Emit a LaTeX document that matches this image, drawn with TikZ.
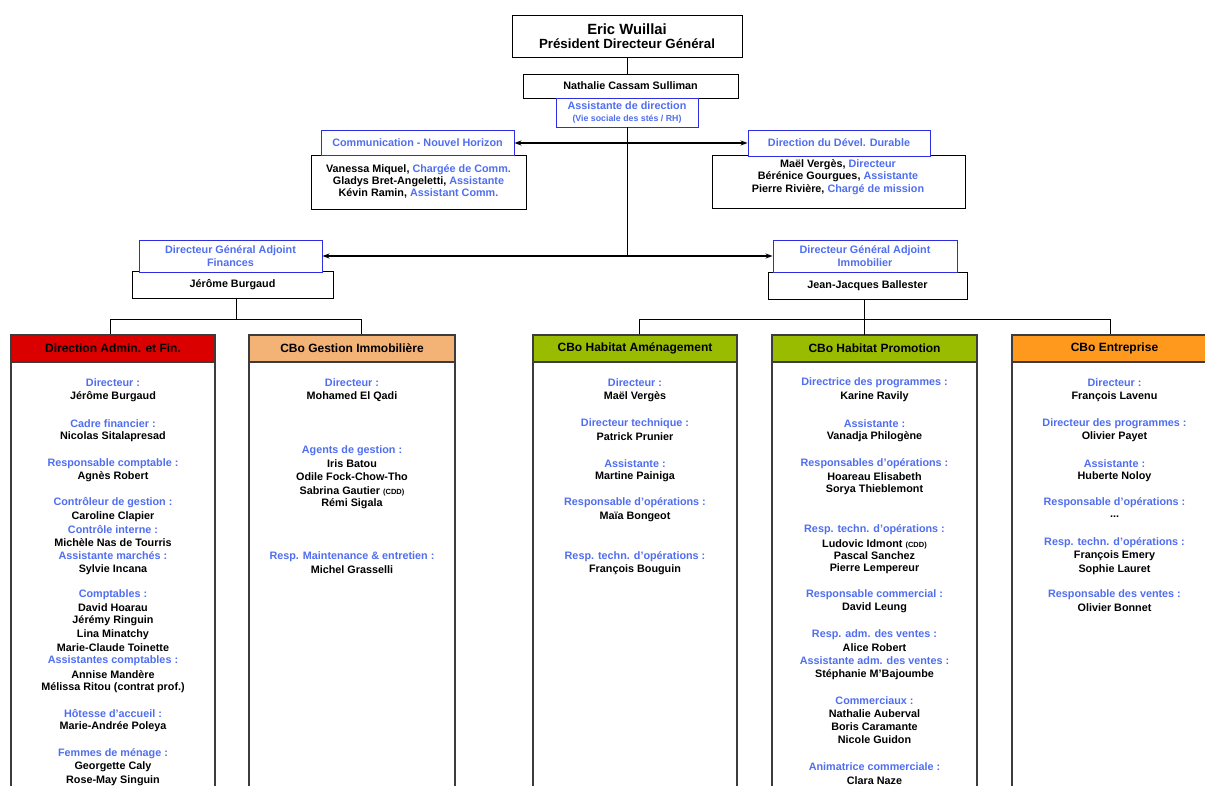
\documentclass[tikz,border=0pt]{standalone}
\usepackage{fontspec}
\setmainfont{Liberation Sans}
\usetikzlibrary{arrows.meta}
\definecolor{lblue}{RGB}{80,110,240}
\definecolor{bblue}{RGB}{45,45,225}
\definecolor{hred}{RGB}{218,0,0}
\definecolor{htan}{RGB}{243,178,118}
\definecolor{hgreen}{RGB}{153,187,0}
\definecolor{horange}{RGB}{255,153,30}
\definecolor{edgegray}{RGB}{60,60,60}
\newcommand\bodyfont{\bfseries\fontsize{10.8}{12.6}\selectfont}
\newcommand\lb[1]{\textcolor{lblue}{#1}}
\newcommand\threedots{...}
\begin{document}
\begin{tikzpicture}[x=1pt,y=-1pt,
  every node/.style={inner sep=0pt, font=\bodyfont},
  kbox/.style={draw=black, line width=0.9pt, fill=white, align=center},
  bbox/.style={draw=bblue, line width=0.9pt, fill=white, align=center, text=lblue},
  head/.style={draw=edgegray, line width=1.3pt, minimum height=27, font=\bfseries\fontsize{12}{14}\selectfont},
  colbody/.style={draw=edgegray, line width=1.3pt, minimum height=440},
  lab/.style={text=lblue},
  nm/.style={text=black},
  link/.style={draw=black, line width=0.8pt},
  dbl/.style={link, line width=1.2pt, {Stealth[length=7pt,width=5pt]}-{Stealth[length=7pt,width=5pt]}}
]
\clip (0,0) rectangle (1205,785);
\fill[white] (0,0) rectangle (1205,785);

% top
\node[kbox, minimum width=230, minimum height=42] (eric) at (627,36)
  {{\fontsize{14.8}{17}\selectfont Eric Wuillai}\\[1.5pt]{\fontsize{13.3}{16}\selectfont Président Directeur Général}};
\node[kbox, minimum width=215, minimum height=24] (nath) at (630.5,86) {Nathalie Cassam Sulliman};
\node[bbox, minimum width=142, minimum height=29] (asst) at (627,112.5)
  {Assistante de direction\\[-1pt]{\fontsize{8.8}{10}\selectfont (Vie sociale des stés / RH)}};
\draw[link] (eric.south) -- (eric.south |- nath.north);

% communication / DDD
\node[kbox, minimum width=215, minimum height=54] (commp) at (418.5,182) {};
\node[align=center, font=\bfseries\fontsize{10.8}{12.2}\selectfont] (commt) at (418.5,181.5)
  {Vanessa Miquel, \lb{Chargée de Comm.}\\Gladys Bret-Angeletti, \lb{Assistante}\\Kévin Ramin, \lb{Assistant Comm.}};
\node[bbox, minimum width=193, minimum height=25] (comm) at (417.5,143) {Communication - Nouvel Horizon};

\node[kbox, minimum width=253, minimum height=53] (dddp) at (838.5,182) {};
\node[align=center, font=\bfseries\fontsize{10.8}{12.4}\selectfont] (dddt) at (838,177)
  {Maël Vergès, \lb{Directeur}\\Bérénice Gourgues, \lb{Assistante}\\Pierre Rivière, \lb{Chargé de mission}};
\node[bbox, minimum width=182, minimum height=26] (ddd) at (839,143) {Direction du Dével. Durable};

\draw[dbl] (comm.east) -- (ddd.west);

% DGA
\node[kbox, minimum width=201, minimum height=27] (jb) at (232.5,284.5) {Jérôme Burgaud};
\node[bbox, minimum width=183, minimum height=32] (dgaf) at (230.5,256) {Directeur Général Adjoint\\Finances};
\node[kbox, minimum width=199, minimum height=27] (jj) at (867.5,285.5) {Jean-Jacques Ballester};
\node[bbox, minimum width=184, minimum height=32] (dgai) at (865,256) {Directeur Général Adjoint\\Immobilier};
\coordinate (hub) at (627,256);
\draw[link] (asst.south) -- (hub);
\draw[dbl] (dgaf.east) -- (dgai.west);

% column headers and bodies
\node[head, fill=hred, minimum width=204] (h1) at (113,348.5) {Direction Admin. et Fin.};
\node[head, fill=htan, minimum width=206] (h2) at (352,348.5) {CBo Gestion Immobilière};
\node[head, fill=hgreen, minimum width=204] (h3) at (635,348.5) {CBo Habitat Aménagement};
\node[head, fill=hgreen, minimum width=205] (h4) at (874.5,348.5) {CBo Habitat Promotion};
\node[head, fill=horange, minimum width=205] (h5) at (1114.5,348.5) {CBo Entreprise};
\node[colbody, minimum width=204] (b1) at (113,582) {};
\node[colbody, minimum width=206] (b2) at (352,582) {};
\node[colbody, minimum width=204] (b3) at (635,582) {};
\node[colbody, minimum width=205] (b4) at (874.5,582) {};
\node[colbody, minimum width=205] (b5) at (1114.5,582) {};

% tree links
\coordinate (t1) at (110,319);
\coordinate (t2) at (361,319);
\coordinate (t3) at (639,319);
\coordinate (t5) at (1110,319);
\draw[link] (jb.south -| 236,0) -- (236,319);
\draw[link] (t1 |- h1.north) -- (t1) -- (t2) -- (t2 |- h2.north);
\draw[link] (t3 |- h3.north) -- (t3) -- (t5) -- (t5 |- h5.north);
\draw[link] (jj.south -| 864,0) -- (864,335);

% column 1
\foreach \yy/\txt/\sty in {383/Directeur :/lab, 397/Jérôme Burgaud/nm, 424/Cadre financier :/lab, 437/Nicolas Sitalapresad/nm,
  464/Responsable comptable :/lab, 477/Agnès Robert/nm, 503/Contrôleur de gestion :/lab, 517/Caroline Clapier/nm,
  530/Contrôle interne :/lab, 543/Michèle Nas de Tourris/nm, 556/Assistante marchés :/lab, 570/Sylvie Incana/nm,
  595/Comptables :/lab, 608/David Hoarau/nm, 621/Jérémy Ringuin/nm, 635/Lina Minatchy/nm, 648/Marie-Claude Toinette/nm,
  661/Assistantes comptables :/lab, 675/Annise Mandère/nm, 688/Mélissa Ritou (contrat prof.)/nm,
  714/Hôtesse d'accueil :/lab, 727/Marie-Andrée Poleya/nm, 754/Femmes de ménage :/lab, 767/Georgette Caly/nm, 781/Rose-May Singuin/nm}
  \node[\sty] (c1-\yy) at (113,\yy) {\txt};

% column 2
\foreach \yy/\txt/\sty in {383/Directeur :/lab, 397/Mohamed El Qadi/nm, 451/Agents de gestion :/lab, 464/Iris Batou/nm,
  477/Odile Fock-Chow-Tho/nm, 491/{Sabrina Gautier {\fontsize{7.5}{9}\selectfont(CDD)}}/nm, 504/Rémi Sigala/nm,
  557/Resp. Maintenance \& entretien :/lab, 570/Michel Grasselli/nm}
  \node[\sty] (c2-\yy) at (352,\yy) {\txt};

% column 3
\foreach \yy/\txt/\sty in {383/Directeur :/lab, 397/Maël Vergès/nm, 424/Directeur technique :/lab, 437/Patrick Prunier/nm,
  464/Assistante :/lab, 477/Martine Painiga/nm, 503/Responsable d'opérations :/lab, 517/Maïa Bongeot/nm,
  557/Resp. techn. d'opérations :/lab, 570/François Bouguin/nm}
  \node[\sty] (c3-\yy) at (635,\yy) {\txt};

% column 4
\foreach \yy/\txt/\sty in {383/Directrice des programmes :/lab, 397/Karine Ravily/nm, 424/Assistante :/lab, 437/Vanadja Philogène/nm,
  464/Responsables d'opérations :/lab, 477/Hoareau Elisabeth/nm, 490/Sorya Thieblemont/nm,
  530/Resp. techn. d'opérations :/lab, 544/{Ludovic Idmont {\fontsize{7.5}{9}\selectfont(CDD)}}/nm, 556/Pascal Sanchez/nm, 569/Pierre Lempereur/nm,
  595/Responsable commercial :/lab, 608/David Leung/nm, 635/Resp. adm. des ventes :/lab, 648/Alice Robert/nm,
  661/Assistante adm. des ventes :/lab, 675/Stéphanie M'Bajoumbe/nm, 701/Commerciaux :/lab, 714/Nathalie Auberval/nm,
  727/Boris Caramante/nm, 740/Nicole Guidon/nm, 767/Animatrice commerciale :/lab, 781/Clara Naze/nm}
  \node[\sty] (c4-\yy) at (874.5,\yy) {\txt};

% column 5
\foreach \yy/\txt/\sty in {383/Directeur :/lab, 397/François Lavenu/nm, 424/Directeur des programmes :/lab, 437/Olivier Payet/nm,
  464/Assistante :/lab, 477/Huberte Noloy/nm, 503/Responsable d'opérations :/lab, 517/\threedots/nm,
  543/Resp. techn. d'opérations :/lab, 556/François Emery/nm, 570/Sophie Lauret/nm,
  595/Responsable des ventes :/lab, 608/Olivier Bonnet/nm}
  \node[\sty] (c5-\yy) at (1114.5,\yy) {\txt};
\end{tikzpicture}
\end{document}
